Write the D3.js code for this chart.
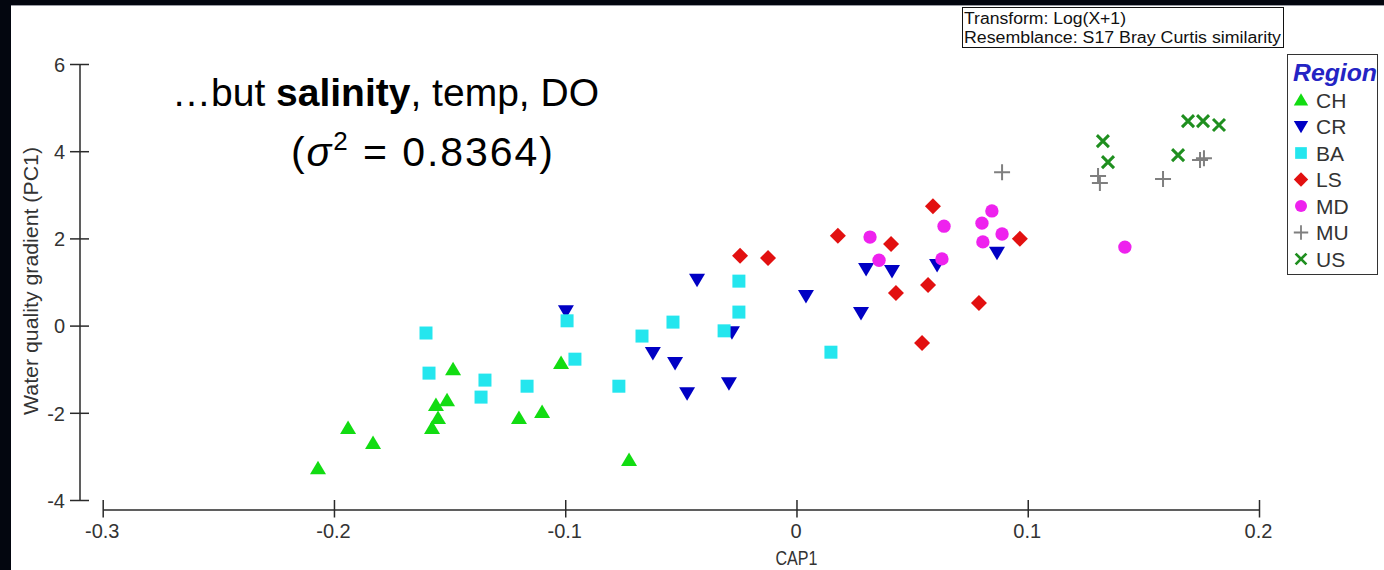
<!DOCTYPE html>
<html>
<head>
<meta charset="utf-8">
<script src="https://cdn.jsdelivr.net/npm/d3@7"></script>
<style>
  html, body { margin: 0; padding: 0; background: #fff; }
  svg { display: block; }
</style>
</head>
<body>
<svg id="chart" width="1384" height="570"></svg>
<script>
// ---------- data ----------
const regions = ["CH", "CR", "BA", "LS", "MD", "MU", "US"];
const regionColors = ["#12dc12", "#0000c4", "#24e6ee", "#e21010", "#ee22ee", "#7f7f7f", "#1f8f1f"];
const regionShapes = ["triangleUp", "triangleDown", "square", "diamond", "circle", "plus", "times"];

const CH_x = [-0.2069, -0.1939, -0.1831, -0.1485, -0.1511, -0.1559, -0.1550, -0.1576, -0.1200, -0.1100, -0.1018, -0.0724];
const CH_y = [-3.27, -2.35, -2.69, -1.00, -1.71, -1.82, -2.12, -2.35, -2.12, -1.98, -0.86, -3.08];

const CR_x = [-0.0997, -0.0621, -0.0525, -0.0473, -0.0430, -0.0292, -0.0279, 0.0041, 0.0279, 0.0301, 0.0413, 0.0608, 0.0867];
const CR_y = [0.33, -0.63, -0.86, -1.55, 1.05, -1.32, -0.15, 0.68, 0.29, 1.30, 1.25, 1.39, 1.67];

const BA_x = [-0.1602, -0.1589, -0.1364, -0.1347, -0.1165, -0.0992, -0.0958, -0.0768, -0.0668, -0.0534, -0.0313, -0.0249, -0.0249, 0.0149];
const BA_y = [-0.17, -1.09, -1.64, -1.25, -1.39, 0.11, -0.77, -1.39, -0.24, 0.08, -0.12, 1.02, 0.31, -0.61];

const LS_x = [-0.0244, -0.0123, 0.0179, 0.0409, 0.0590, 0.0966, 0.0430, 0.0569, 0.0789, 0.0543];
const LS_y = [1.60, 1.55, 2.06, 1.87, 2.74, 1.99, 0.75, 0.93, 0.52, -0.40];

const MD_x = [0.0318, 0.0357, 0.0638, 0.0629, 0.0845, 0.0802, 0.0889, 0.0806, 0.1420];
const MD_y = [2.03, 1.50, 2.28, 1.53, 2.63, 2.35, 2.10, 1.92, 1.80];

const MU_x = [0.0889, 0.1304, 0.1312, 0.1585, 0.1745, 0.1762];
const MU_y = [3.52, 3.43, 3.27, 3.36, 3.80, 3.84];

const US_x = [0.1325, 0.1347, 0.1650, 0.1693, 0.1758, 0.1827];
const US_y = [4.23, 3.75, 3.91, 4.69, 4.69, 4.60];

const xTicks = [-0.3, -0.2, -0.1, 0, 0.1, 0.2];
const xTickLabels = ["-0.3", "-0.2", "-0.1", "0", "0.1", "0.2"];
const yTicks = [-4, -2, 0, 2, 4, 6];
const yTickLabels = ["-4", "-2", "0", "2", "4", "6"];

const xTitle = "CAP1";
const yTitle = "Water quality gradient (PC1)";
const noteLines = ["Transform: Log(X+1)", "Resemblance: S17 Bray Curtis similarity"];
const legendTitle = "Region";

// ---------- build ----------
const seriesX = [CH_x, CR_x, BA_x, LS_x, MD_x, MU_x, US_x];
const seriesY = [CH_y, CR_y, BA_y, LS_y, MD_y, MU_y, US_y];
const points = [];
regions.forEach((r, i) => {
  seriesX[i].forEach((xv, j) => points.push({ region: r, idx: i, x: xv, y: seriesY[i][j] }));
});

const FONT = "Liberation Sans, Arial, Helvetica, sans-serif";
const svg = d3.select("#chart");

// dark frame (slide background edges)
svg.append("rect").attr("x", 0).attr("y", 0).attr("width", 1384).attr("height", 5).attr("fill", "#03060f");
svg.append("rect").attr("x", 0).attr("y", 0).attr("width", 11).attr("height", 570).attr("fill", "#03060f");
svg.append("line").attr("x1", 11).attr("x2", 1384).attr("y1", 5.5).attr("y2", 5.5).attr("stroke", "#9a9ca4").attr("stroke-width", 1);

const x = d3.scaleLinear().domain([-0.3, 0.2]).range([102.7, 1259]);
const y = d3.scaleLinear().domain([-4, 6]).range([500, 64]);

const axisColor = "#2a2a2a";
const tickFont = 20;

// Y axis
const yAxisG = svg.append("g").attr("transform", "translate(79.5,0)")
  .call(d3.axisLeft(y).tickValues(yTicks).tickFormat((d, i) => yTickLabels[i]).tickSizeOuter(0).tickSizeInner(9).tickPadding(14));
yAxisG.attr("font-family", FONT);
yAxisG.select(".domain").attr("stroke", axisColor).attr("stroke-width", 1.5);
yAxisG.selectAll(".tick line").attr("x1", -9.5).attr("x2", 9.5).attr("stroke", axisColor).attr("stroke-width", 1.5);
yAxisG.selectAll(".tick text").attr("x", -14.5).attr("font-size", tickFont).attr("fill", "#333").attr("dy", "0.36em");

// X axis
const xAxisG = svg.append("g").attr("transform", "translate(0,509.5)")
  .call(d3.axisBottom(x).tickValues(xTicks).tickFormat((d, i) => xTickLabels[i]).tickSizeOuter(0).tickSizeInner(9).tickPadding(14));
xAxisG.attr("font-family", FONT);
xAxisG.select(".domain").attr("stroke", axisColor).attr("stroke-width", 1.5);
xAxisG.selectAll(".tick line").attr("y1", -9.5).attr("y2", 8).attr("stroke", axisColor).attr("stroke-width", 1.5);
xAxisG.selectAll(".tick text").attr("x", -1).attr("y", 14).attr("font-size", tickFont).attr("fill", "#333").attr("dy", "0.71em");

// axis titles
svg.append("text").attr("x", x(0)).attr("y", 565)
  .attr("text-anchor", "middle").attr("font-family", FONT)
  .attr("font-size", 20).attr("fill", "#333")
  .attr("textLength", 42).attr("lengthAdjust", "spacingAndGlyphs").text(xTitle);
svg.append("text").attr("transform", "translate(38," + 281 + ") rotate(-90)")
  .attr("text-anchor", "middle").attr("font-family", FONT)
  .attr("font-size", 20).attr("fill", "#333")
  .attr("textLength", 268).attr("lengthAdjust", "spacingAndGlyphs").text(yTitle);

// symbol generator
function shapePath(shape) {
  switch (shape) {
    case "triangleUp": return "M0,-7.5L8,6L-8,6Z";
    case "triangleDown": return "M0,7.5L8,-6L-8,-6Z";
    case "square": return "M-6.5,-6.5H6.5V6.5H-6.5Z";
    case "diamond": return "M0,-8L8,0L0,8L-8,0Z";
    case "circle": return d3.symbol(d3.symbolCircle, 140)();
    case "plus": return "M-8,0H8M0,-8V8";
    case "times": return "M-6,-6L6,6M-6,6L6,-6";
  }
}
function styleSymbol(sel, i) {
  const shape = regionShapes[i];
  if (shape === "plus" || shape === "times") {
    sel.attr("fill", "none").attr("stroke", regionColors[i]).attr("stroke-width", shape === "plus" ? 2 : 3);
  } else {
    sel.attr("fill", regionColors[i]).attr("stroke", "none");
  }
}

// points
const ptsG = svg.append("g");
ptsG.selectAll("path").data(points).enter().append("path")
  .attr("transform", d => "translate(" + x(d.x) + "," + y(d.y) + ")")
  .attr("d", d => shapePath(regionShapes[d.idx]))
  .each(function (d) { styleSymbol(d3.select(this), d.idx); });

// title text
const title = svg.append("text").attr("font-family", FONT).attr("font-size", 39).attr("fill", "#000");
title.append("tspan").attr("x", 172).attr("y", 106).text("\u2026but ");
title.append("tspan").attr("font-weight", "bold").text("salinity");
title.append("tspan").text(", temp, DO");
const t2 = svg.append("text").attr("font-family", FONT).attr("font-size", 41).attr("fill", "#000")
  .attr("x", 291).attr("y", 166)
  .attr("textLength", 262).attr("lengthAdjust", "spacing");
t2.append("tspan").text("(");
t2.append("tspan").attr("font-style", "italic").text("\u03C3");
t2.append("tspan").attr("font-size", 26).attr("dy", -16).text("2");
t2.append("tspan").attr("dy", 16).text(" = 0.8364)");

// note box
svg.append("rect").attr("x", 962.5).attr("y", 7.5).attr("width", 321).attr("height", 40)
  .attr("fill", "#fff").attr("stroke", "#111").attr("stroke-width", 1);
svg.append("text").attr("x", 964).attr("y", 24).attr("font-family", FONT)
  .attr("font-size", 16).attr("fill", "#111")
  .attr("textLength", 162).attr("lengthAdjust", "spacingAndGlyphs").text(noteLines[0]);
svg.append("text").attr("x", 964).attr("y", 43).attr("font-family", FONT)
  .attr("font-size", 16).attr("fill", "#111")
  .attr("textLength", 317).attr("lengthAdjust", "spacingAndGlyphs").text(noteLines[1]);

// legend
const lg = svg.append("g");
lg.append("rect").attr("x", 1287.5).attr("y", 54.5).attr("width", 90).attr("height", 220)
  .attr("fill", "#fff").attr("stroke", "#333").attr("stroke-width", 1);
lg.append("text").attr("x", 1293).attr("y", 81).attr("font-family", FONT)
  .attr("font-size", 24).attr("font-weight", "bold").attr("font-style", "italic").attr("fill", "#2424c4")
  .attr("textLength", 84).attr("lengthAdjust", "spacingAndGlyphs").text(legendTitle);
const legendY = d3.scalePoint().domain(regions).range([100, 259]);
regions.forEach((r, i) => {
  const cy = legendY(r);
  const p = lg.append("path").attr("transform", "translate(1301," + cy + ") scale(0.9)").attr("d", shapePath(regionShapes[i]));
  styleSymbol(p, i);
  lg.append("text").attr("x", 1316).attr("y", cy + 7.5).attr("font-family", FONT)
    .attr("font-size", 21).attr("fill", "#333").text(r);
});
</script>
</body>
</html>
